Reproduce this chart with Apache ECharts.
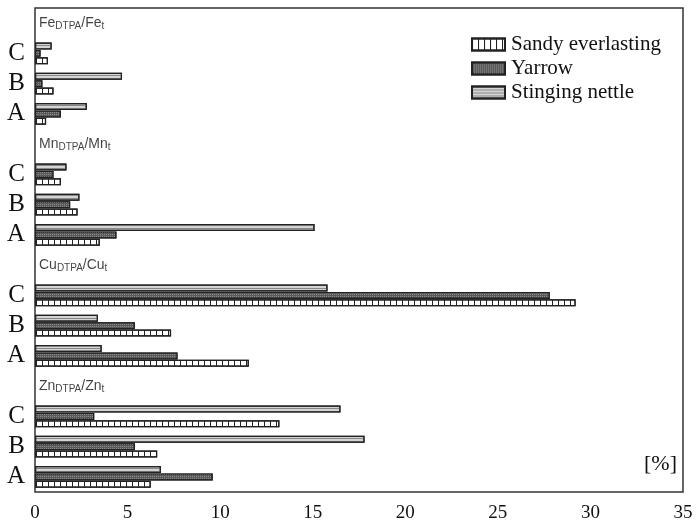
<!DOCTYPE html>
<html>
<head>
<meta charset="utf-8">
<script src="https://cdn.jsdelivr.net/npm/echarts@6/dist/echarts.min.js"></script>
<style>
  html, body { margin: 0; padding: 0; background: #fff; }
  #main { width: 699px; height: 528px; }
</style>
</head>
<body>
<div id="main"></div>
<script>
// elements, each group has a title row then C, B, A
let elements = ["Fe", "Mn", "Cu", "Zn"];
let rows = ["C", "B", "A"];
let xTicks = [0, 5, 10, 15, 20, 25, 30, 35];

// values in %, per element in row order C, B, A
let sandy = {
    Fe: [0.7, 1.0, 0.6],
    Mn: [1.4, 2.3, 3.5],
    Cu: [29.2, 7.35, 11.55],
    Zn: [13.2, 6.6, 6.25],
};
let yarrow = {
    Fe: [0.3, 0.4, 1.4],
    Mn: [1.0, 1.9, 4.4],
    Cu: [27.8, 5.4, 7.7],
    Zn: [3.2, 5.4, 9.6],
};
let nettle = {
    Fe: [0.9, 4.7, 2.8],
    Mn: [1.7, 2.4, 15.1],
    Cu: [15.8, 3.4, 3.6],
    Zn: [16.5, 17.8, 6.8],
};

// build category list and series arrays
let cats = [];
let titlePts = [];
let sData = [], yData = [], nData = [];
elements.forEach(function (el) {
    cats.push(el + "_T");
    titlePts.push({ value: [0, el + "_T"], name: el });
    sData.push(null); yData.push(null); nData.push(null);
    rows.forEach(function (r, i) {
        cats.push(el + "_" + r);
        sData.push(sandy[el][i]);
        yData.push(yarrow[el][i]);
        nData.push(nettle[el][i]);
    });
});

let dom = document.getElementById("main");
let myChart = echarts.init(dom, null, { renderer: "canvas" });

let barBorder = { borderColor: "#222", borderWidth: 1.2 };

let option = {
    animation: false,
    backgroundColor: "#fff",
    grid: {
        left: 35, right: 16, top: 8, bottom: 36,
        show: true, borderColor: "#333", borderWidth: 1.5,
    },
    legend: {
        left: 466, top: 29,
        orient: "vertical",
        icon: "rect",
        itemWidth: 33, itemHeight: 12, itemGap: 3,
        textStyle: { fontFamily: "Liberation Serif", fontSize: 21, color: "#111", padding: [0, 0, 0, 1] },
        data: ["Sandy everlasting", "Yarrow", "Stinging nettle"],
    },
    xAxis: {
        type: "value",
        min: 0, max: 35, interval: 5,
        axisLine: { show: false },
        axisTick: { show: false },
        splitLine: { show: false },
        axisLabel: {
            margin: 12,
            fontFamily: "Liberation Serif", fontSize: 19, color: "#111",
            formatter: function (v) { return xTicks.indexOf(v) >= 0 ? String(v) : ""; },
        },
    },
    yAxis: {
        type: "category",
        inverse: true,
        data: cats,
        axisLine: { show: false },
        axisTick: { show: false },
        axisLabel: {
            interval: 0,
            margin: 10,
            fontFamily: "Liberation Serif", fontSize: 25, color: "#111",
            formatter: function (v) {
                let r = v.split("_")[1];
                return r === "T" ? "" : r;
            },
        },
    },
    series: [
        {
            name: "Stinging nettle",
            type: "bar",
            data: nData,
            barWidth: 7, barGap: "5%",
            itemStyle: Object.assign({
                color: "#d4d4d4",
                decal: { symbol: "rect", symbolSize: 1, color: "#888",
                         dashArrayX: [5, 0], dashArrayY: [1, 2] },
            }, barBorder),
        },
        {
            name: "Yarrow",
            type: "bar",
            data: yData,
            barWidth: 7, barGap: "5%",
            itemStyle: Object.assign({
                color: "#5a5a5a",
                decal: { symbol: "rect", symbolSize: 1, color: "#8a8a8a",
                         dashArrayX: [1, 1], dashArrayY: [1, 1] },
            }, barBorder),
        },
        {
            name: "Sandy everlasting",
            type: "bar",
            data: sData,
            barWidth: 7, barGap: "5%",
            itemStyle: Object.assign({
                color: "#fff",
                decal: { symbol: "rect", symbolSize: 1, color: "#222",
                         dashArrayX: [1, 5], dashArrayY: [5, 0] },
            }, barBorder),
        },
        {
            name: "titles",
            type: "scatter",
            data: titlePts,
            symbolSize: 0,
            silent: true,
            label: {
                show: true,
                position: "right",
                distance: 4,
                fontFamily: "Liberation Sans", fontSize: 14, color: "#111",
                formatter: function (p) {
                    return p.name + "{s|DTPA}/" + p.name + "{s|t}";
                },
                rich: {
                    s: { fontFamily: "Liberation Sans", fontSize: 10, color: "#111",
                         verticalAlign: "bottom", padding: [6, 0, 0, 0] },
                },
            },
        },
    ],
    graphic: [
        {
            type: "text",
            right: 22, top: 453,
            style: { text: "[%]", fontFamily: "Liberation Serif", fontSize: 22, fill: "#111" },
        },
    ],
};

myChart.setOption(option);
window.addEventListener("resize", myChart.resize);
</script>
</body>
</html>
